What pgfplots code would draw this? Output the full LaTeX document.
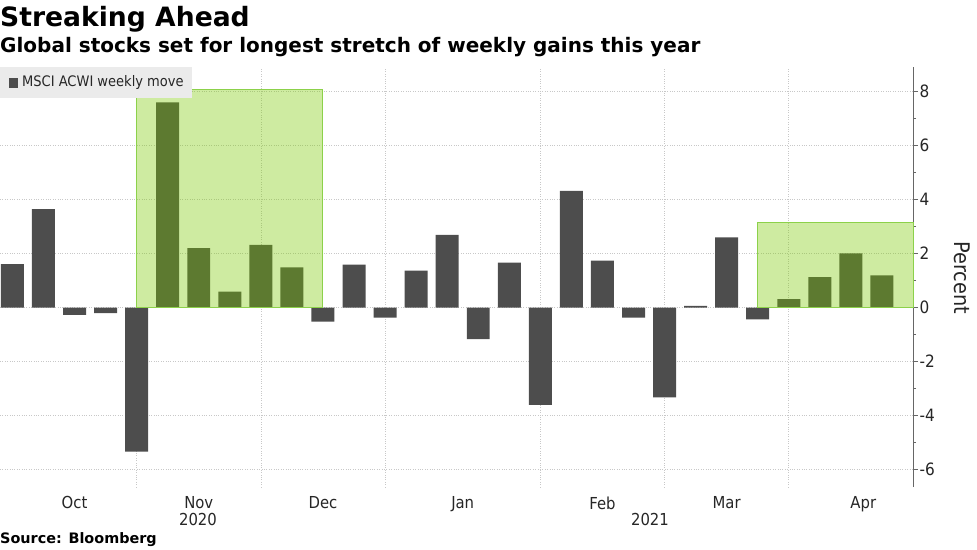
\documentclass[border=0pt]{standalone}
\usepackage{pgfplots}
\pgfplotsset{compat=1.18}
\usepackage{pgfplotstable}
\usepackage{fontspec}
\setmainfont{DejaVu Sans}
\newfontfamily\cond{DejaVu Sans Condensed}
\definecolor{barc}{HTML}{4D4D4D}
\definecolor{boxg}{RGB}{123,200,0}
\definecolor{boxedge}{HTML}{8CD14A}
\definecolor{gridc}{HTML}{C8C8C8}
\definecolor{axc}{HTML}{666666}

\pgfplotstableread{
x y
0 1.61
1 3.64
2 -0.27
3 -0.21
4 -5.33
5 7.59
6 2.20
7 0.59
8 2.32
9 1.49
10 -0.52
11 1.59
12 -0.37
13 1.37
14 2.69
15 -1.17
16 1.66
17 -3.60
18 4.32
19 1.74
20 -0.37
21 -3.32
22 0.06
23 2.60
24 -0.44
25 0.31
26 1.13
27 2.00
28 1.19
}\data

\begin{document}
\begin{tikzpicture}[x=1pt,y=1pt]
\useasboundingbox (0,-62) rectangle (977,487);
\begin{axis}[scale only axis,
  width=913pt, height=420pt,
  xmin=-0.4, xmax=29, ymin=-6.64, ymax=8.9,
  axis y line*=right, axis x line*=bottom,
  x axis line style={draw=none},
  y axis line style={draw=axc, line width=0.8pt},
  xtick={2,6,10,14.5,19,23,27.4},
  xticklabels={Oct,Nov,Dec,Jan,Feb,Mar,Apr},
  xtick style={draw=none},
  extra x ticks={4,8,12,17,21,25},
  extra x tick labels={},
  extra x tick style={grid=major, tick style={draw=none}},
  ymajorgrids,
  grid style={gridc, dotted, line width=0.7pt},
  ytick={-6,-4,...,8}, minor ytick={-5,-3,...,7},
  tick align=outside, major tick length=5pt, minor tick length=3pt,
  ytick style={axc, line width=0.8pt},
  /pgf/number format/assume math mode=true,
  yticklabel style={font=\cond\fontsize{17}{17}\selectfont, black!85, xshift=-2pt},
  xticklabel style={font=\cond\fontsize{16.5}{16.5}\selectfont, black!85, yshift=-1pt},
  clip=false,
]
\addplot[ybar, bar width=0.74, fill=barc, draw=none] table[x=x,y=y] {\data};
\addplot[fill=boxg, fill opacity=0.37, draw=boxedge, line width=1pt] coordinates {(4,0) (4,8.06) (10,8.06) (10,0)} -- cycle;
\addplot[fill=boxg, fill opacity=0.37, draw=boxedge, line width=1pt] coordinates {(24,0) (24,3.16) (29,3.16) (29,0)} -- cycle;
\end{axis}
\begin{scope}[yshift=-62pt]
% legend
\fill[black!8] (0,451) rectangle (192,482);
\fill[barc] (9.3,461) rectangle (18.3,471);
\node[anchor=west, inner sep=0, font=\cond\fontsize{14.5}{14.5}\selectfont, black!85] at (22,466) {MSCI ACWI weekly move};
% right label
\node[rotate=-90, font=\cond\fontsize{21.5}{21.5}\selectfont, black!85] at (962,271) {Percent};
% years
\node[font=\cond\fontsize{16.5}{16.5}\selectfont, black!85] at (198,30) {2020};
\node[font=\cond\fontsize{16.5}{16.5}\selectfont, black!85] at (650,30) {2021};
% titles
\node[anchor=base west, inner sep=0, font=\bfseries\fontsize{26.6}{26.6}\selectfont] at (0,522) {Streaking Ahead};
\node[anchor=base west, inner sep=0, font=\bfseries\fontsize{20}{20}\selectfont] at (0,496) {Global stocks set for longest stretch of weekly gains this year};
\node[anchor=base west, inner sep=0, font=\bfseries\fontsize{14.4}{14.4}\selectfont] at (0,6) {Source: Bloomberg};
\end{scope}
\end{tikzpicture}
\end{document}
